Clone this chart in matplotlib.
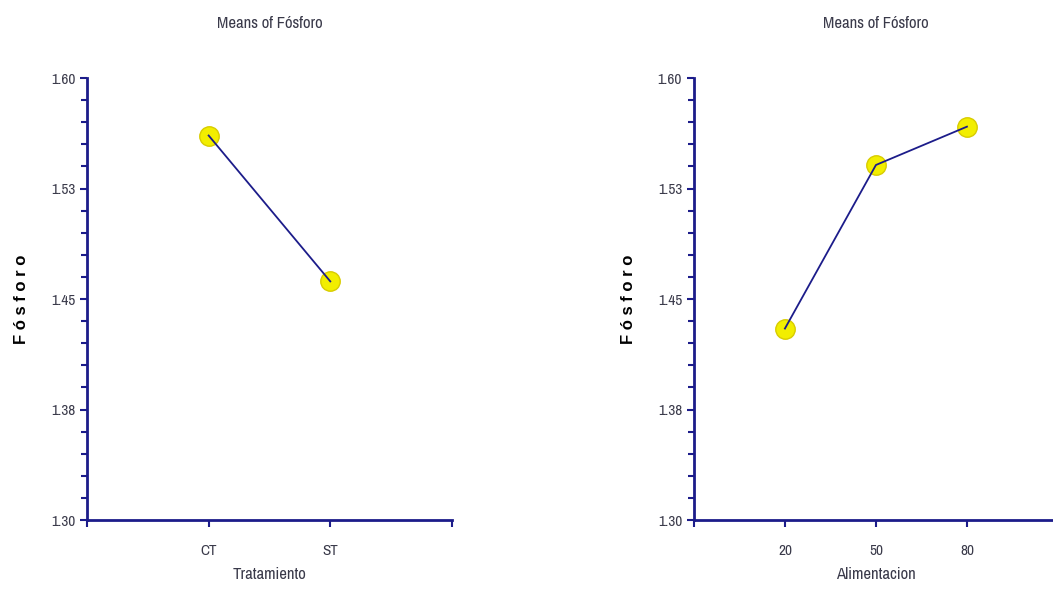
import matplotlib.pyplot as plt
import numpy as np
from matplotlib.ticker import FixedLocator

# data
trat_labels = ["CT", "ST"]
trat_means = [1.561, 1.462]
alim_labels = ["20", "50", "80"]
alim_means = [1.430, 1.541, 1.567]

y_ticks = [1.30, 1.375, 1.45, 1.525, 1.60]
y_tick_labels = ["1.30", "1.38", "1.45", "1.53", "1.60"]

NAVY = "#1c1c8a"
TXT = "#3a3a4a"
NARROW = ["Archivo Narrow", "Liberation Sans Narrow", "Liberation Sans", "DejaVu Sans"]

fig = plt.figure(figsize=(10.53, 5.89), dpi=100)


def draw_panel(rect, labels, means, xlabel, ylabel_x):
    ax = fig.add_axes(rect)
    x = np.arange(1, len(labels) + 1)
    ax.plot(x, means, linestyle="none", marker="o", markersize=14,
            markerfacecolor="#f2ee00", markeredgecolor="#d8cc00", zorder=2)
    ax.plot(x, means, color=NAVY, lw=1.3, zorder=3)

    ax.set_xlim(0, len(labels) + 1)
    ax.set_ylim(1.30, 1.60)
    for side in ["top", "right"]:
        ax.spines[side].set_visible(False)
    for side in ["left", "bottom"]:
        ax.spines[side].set_color(NAVY)
        ax.spines[side].set_linewidth(2)

    ax.xaxis.set_major_locator(FixedLocator(np.arange(0, len(labels) + 2)))
    ax.set_xticklabels([""] + labels + [""], family=NARROW, fontsize=11, color=TXT)
    ax.yaxis.set_major_locator(FixedLocator(y_ticks))
    minors = [t + k * 0.015 for t in y_ticks[:-1] for k in range(1, 5)]
    ax.yaxis.set_minor_locator(FixedLocator(minors))
    ax.set_yticklabels(y_tick_labels, family=NARROW, fontsize=11, color=TXT)
    ax.tick_params(axis="both", which="both", color=NAVY, width=1.5)
    ax.tick_params(axis="both", which="major", length=5)
    ax.tick_params(axis="y", which="minor", length=4)
    ax.tick_params(axis="x", pad=12)

    ax.set_title("Means of Fósforo", family=NARROW, fontsize=12, color=TXT, pad=36)
    ax.set_xlabel(xlabel, family=NARROW, fontsize=12, color=TXT, labelpad=7)
    ax.set_ylabel("F ó s f o r o", family=["Liberation Sans", "DejaVu Sans"],
                  fontsize=12, fontweight="bold", color="black")
    ax.yaxis.set_label_coords(ylabel_x, 0.5)
    return ax


draw_panel([0.0826, 0.117, 0.3466, 0.7505], trat_labels, trat_means, "Tratamiento", -0.16)
draw_panel([0.659, 0.117, 0.3457, 0.7505], alim_labels, alim_means, "Alimentacion", -0.16)

fig.savefig("out.png", dpi=100)
